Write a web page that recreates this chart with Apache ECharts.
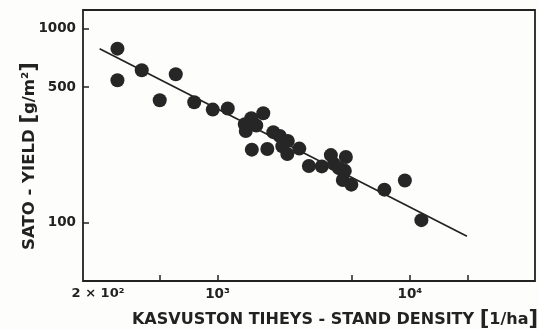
<!DOCTYPE html>
<html>
<head>
<meta charset="utf-8">
<script src="https://cdn.jsdelivr.net/npm/echarts@6/dist/echarts.min.js"></script>
<style>
html,body{margin:0;padding:0;background:#fdfdfc;}
#chart{width:539px;height:330px;}
</style>
</head>
<body>
<div id="chart"></div>
<script>
// Stand density [1/ha] (x) and yield [g/m2] (y) of each plot
var density = [302, 302, 404, 607, 501, 757, 945, 1131, 1730, 1499, 1387, 1591, 1403,
  1508, 1816, 1951, 2109, 2321, 2173, 2307, 2663, 2985, 3486, 3884, 4648, 4026, 4274,
  4592, 4483, 4963, 7369, 9419, 11475];
var yieldVals = [790, 543, 611, 583, 428, 418, 383, 388, 367, 346, 322, 317, 297,
  238, 240, 293, 280, 264, 248, 226, 241, 196, 195, 223, 218, 201, 191,
  185, 166, 157, 148, 165, 103];
// Fitted regression line end points
var lineX = [244, 19800];
var lineY = [788, 85];
// Axis ticks and labels
var xTickValues = [500, 1000, 5000, 10000, 20000];
var xLabelValues = [200, 1000, 10000];
var xLabelTexts = ['2 × 10²', '10³', '10⁴'];
var yTickValues = [100, 500, 1000];
var yLabelTexts = ['100', '500', '1000'];

var points = density.map(function (d, i) { return [d, yieldVals[i]]; });
var fitLine = lineX.map(function (d, i) { return [d, lineY[i]]; });

var chart = echarts.init(document.getElementById('chart'), null, {renderer: 'canvas'});
var ink = '#222222';
chart.setOption({
  animation: false,
  backgroundColor: '#fdfdfc',
  grid: {left: 83, right: 4, top: 10, bottom: 49, outerBoundsMode: 'none', containLabel: false,
    show: true, borderColor: ink, borderWidth: 1.8, backgroundColor: 'transparent'},
  xAxis: {
    type: 'log', logBase: 10, min: 200, max: 44700,
    axisLine: {show: false},
    splitLine: {show: false},
    minorTick: {show: false},
    axisTick: {show: true, inside: true, length: 6, customValues: xTickValues, lineStyle: {color: ink, width: 1.5}},
    axisLabel: {
      customValues: xLabelValues,
      margin: 6,
      color: ink,
      fontFamily: 'DejaVu Sans',
      fontWeight: 'bold',
      fontSize: 13.5,
      formatter: function (v) {
        var idx = xLabelValues.indexOf(Math.round(v));
        var t = idx >= 0 ? xLabelTexts[idx] : '';
        return idx === 0 ? '{f|' + t + '}' : t;
      },
      rich: {f: {fontFamily: 'DejaVu Sans', fontWeight: 'bold', fontSize: 13, color: ink, padding: [0, 0, 0, 30]}}
    },
    name: 'KASVUSTON TIHEYS - STAND DENSITY {b|[}1/ha{b|]}',
    nameLocation: 'middle',
    nameMoveOverlap: false,
    nameGap: 28,
    nameTextStyle: {
      color: ink, fontFamily: 'DejaVu Sans', fontWeight: 'bold', fontSize: 16,
      padding: [0, 0, 0, 52],
      rich: {b: {fontFamily: 'DejaVu Sans', fontWeight: 'bold', fontSize: 21, color: ink}}
    }
  },
  yAxis: {
    type: 'log', logBase: 10, min: 50, max: 1250,
    axisLine: {show: false},
    splitLine: {show: false},
    minorTick: {show: false},
    axisTick: {show: true, inside: true, length: 6, customValues: yTickValues, lineStyle: {color: ink, width: 1.5}},
    axisLabel: {
      customValues: yTickValues,
      margin: 7,
      color: ink,
      fontFamily: 'DejaVu Sans',
      fontWeight: 'bold',
      fontSize: 13.5,
      formatter: function (v) {
        var idx = yTickValues.indexOf(Math.round(v));
        return idx >= 0 ? yLabelTexts[idx] : '';
      }
    },
    name: 'SATO - YIELD {b|[}g/m²{b|]}',
    nameLocation: 'middle',
    nameMoveOverlap: false,
    nameGap: 43,
    nameTextStyle: {
      color: ink, fontFamily: 'DejaVu Sans', fontWeight: 'bold', fontSize: 16.5,
      padding: [0, 21, 0, 0],
      rich: {b: {fontFamily: 'DejaVu Sans', fontWeight: 'bold', fontSize: 21, color: ink}}
    }
  },
  series: [
    {
      type: 'line',
      data: fitLine,
      showSymbol: false,
      lineStyle: {color: ink, width: 1.7},
      z: 2
    },
    {
      type: 'scatter',
      data: points,
      symbolSize: 14,
      itemStyle: {color: '#262626', opacity: 1},
      z: 3
    }
  ]
});
</script>
</body>
</html>
